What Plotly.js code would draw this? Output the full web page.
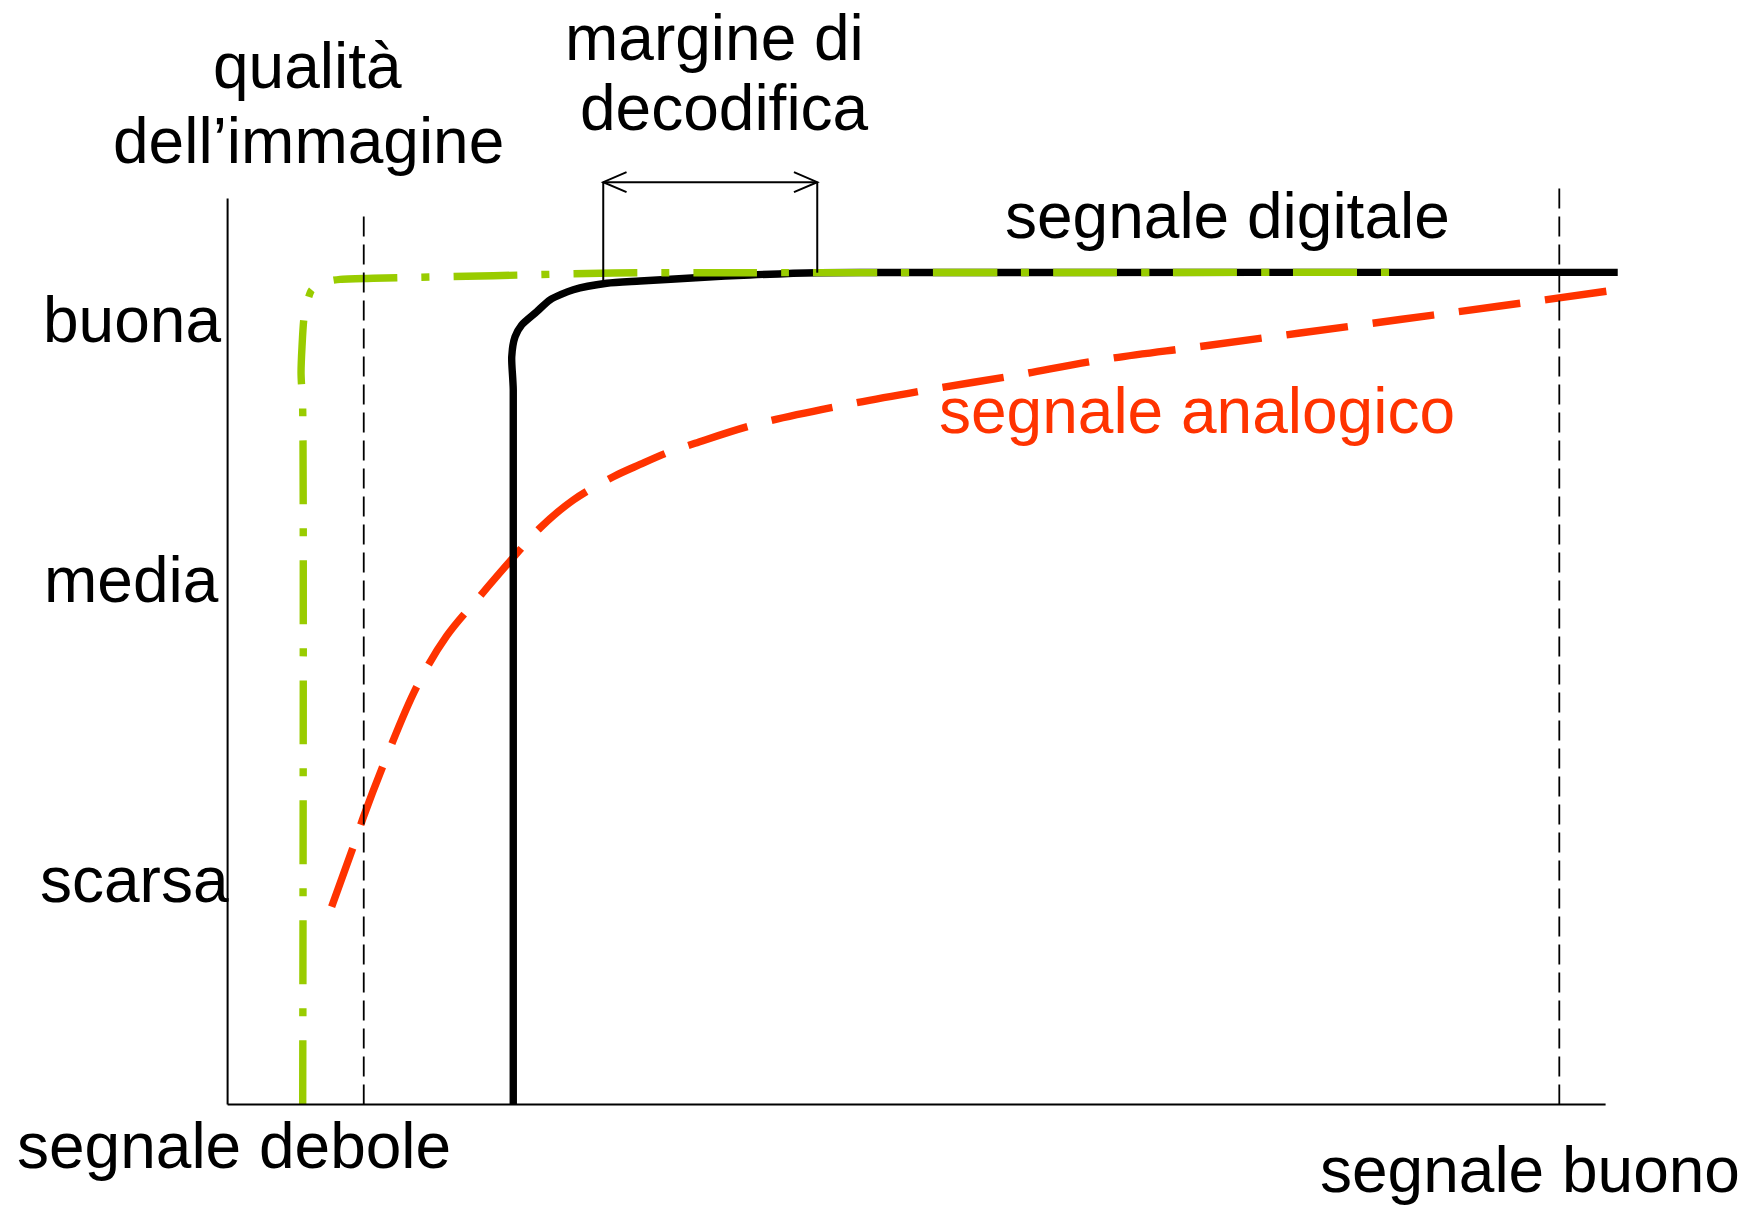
<!DOCTYPE html>
<html>
<head>
<meta charset="utf-8">
<script src="https://cdn.plot.ly/plotly-3.0.1.min.js"></script>
<style>
  html, body { margin: 0; padding: 0; background: #ffffff; }
  #chart { width: 1758px; height: 1206px; }
</style>
</head>
<body>
<div id="chart"></div>
<script>
// ---- data (x = signal strength along the axis, 0..100; y = picture quality, 0..100) ----
const digitalX = [20.73, 20.73, 20.62, 20.86, 21.34, 22.43, 23.40, 25.09, 27.51, 29.93, 34.28, 37.89, 42.77, 48.79, 100.88];
const digitalY = [0, 78.86, 82.54, 84.74, 86.04, 87.50, 88.82, 89.92, 90.64, 90.89, 91.28, 91.56, 91.81, 91.83, 91.85];

const greenX = [5.45, 5.45, 5.33, 5.40, 5.57, 6.10, 7.19, 8.16, 10.57, 19.28, 27.99, 37.91, 85.57];
const greenY = [0, 76.65, 80.70, 83.64, 87.14, 89.90, 90.82, 91.08, 91.19, 91.48, 91.78, 91.81, 91.85];

const analogX = [7.55, 9.12, 9.85, 11.30, 13.72, 15.90, 18.32, 20.64, 22.67, 25.09, 27.99, 29.93, 32.10, 33.92, 38.15, 44.44, 50.73, 57.02, 63.31, 70.56, 77.82, 85.08, 92.34, 101.17];
const analogY = [21.82, 28.45, 31.69, 37.47, 46.09, 51.71, 56.12, 60.21, 63.63, 66.72, 69.29, 70.64, 72.05, 72.98, 75.00, 77.10, 78.86, 80.44, 82.17, 83.66, 85.15, 86.64, 88.13, 90.00];

const qualityLabels = ['buona', 'media', 'scarsa'];
const qualityY = [86.58, 57.91, 24.79];

const signalLabels = ['segnale debole', 'segnale buono'];

const thresholdX = [9.88, 96.64];     // dashed reference lines
const thresholdTop = [98.64, 101.86];

const marginX = [27.26, 42.79];       // "margine di decodifica"
const marginTop = 101.8;

// ---- geometry of the drawing area (pixel anchors of the axes) ----
const W = 1758, H = 1206;
const X0PX = 227.6, X100PX = 1605.6, Y0PX = 1104.4, Y100PX = 198.5;
const SX = (X100PX - X0PX) / 100, SY = (Y0PX - Y100PX) / 100;

const FONT = 'Liberation Sans, Arial, Helvetica, sans-serif';
const FS = 64;
const GREEN = '#99CC00', RED = '#FF3300';
const LW = 7.4;

function interp(xs, ys, x) {
  for (let i = 1; i < xs.length; i++) {
    if (xs[i] >= x && xs[i - 1] <= x && xs[i] !== xs[i - 1]) {
      const t = (x - xs[i - 1]) / (xs[i] - xs[i - 1]);
      return ys[i - 1] + t * (ys[i] - ys[i - 1]);
    }
  }
  return ys[ys.length - 1];
}
const px = v => v / W;            // pixel x -> paper
const py = v => 1 - v / H;        // pixel y -> paper

const traces = [
  { x: analogX, y: analogY, mode: 'lines', line: { color: RED, width: LW, dash: '62px,25px', shape: 'spline', smoothing: 1 }, hoverinfo: 'skip' },
  { x: digitalX, y: digitalY, mode: 'lines', line: { color: '#000000', width: LW, shape: 'spline', smoothing: 0.7 }, hoverinfo: 'skip' },
  { x: greenX, y: greenY, mode: 'lines', line: { color: GREEN, width: LW, dash: '64px,24px,8px,24px', shape: 'spline', smoothing: 0.6 }, hoverinfo: 'skip' }
];

const shapes = [
  { type: 'line', xref: 'x', yref: 'y', x0: 0, y0: 0, x1: 0, y1: 100, line: { color: '#000', width: 2 } },
  { type: 'line', xref: 'x', yref: 'y', x0: 0, y0: 0, x1: 100, y1: 0, line: { color: '#000', width: 2 } }
];
thresholdX.forEach((tx, i) => shapes.push({
  type: 'line', xref: 'x', yref: 'y', x0: tx, x1: tx, y0: 0, y1: thresholdTop[i],
  line: { color: '#000', width: 1.8, dash: '20px,8px' }
}));
// bracket of the decoding margin
shapes.push({ type: 'line', xref: 'x', yref: 'y', x0: marginX[0], x1: marginX[1], y0: marginTop, y1: marginTop, line: { color: '#000', width: 2 } });
marginX.forEach(mx => shapes.push({
  type: 'line', xref: 'x', yref: 'y', x0: mx, x1: mx, y0: marginTop, y1: interp(digitalX, digitalY, mx),
  line: { color: '#000', width: 2 }
}));
const hdx = 23.3 / SX, hdy = 10 / SY;
shapes.push({ type: 'path', xref: 'x', yref: 'y', line: { color: '#000', width: 2 },
  path: `M${marginX[0] + hdx},${marginTop + hdy} L${marginX[0]},${marginTop} L${marginX[0] + hdx},${marginTop - hdy}` });
shapes.push({ type: 'path', xref: 'x', yref: 'y', line: { color: '#000', width: 2 },
  path: `M${marginX[1] - hdx},${marginTop + hdy} L${marginX[1]},${marginTop} L${marginX[1] - hdx},${marginTop - hdy}` });

const BASE = 0.3465 * FS; // baseline offset from text box centre
function label(text, cx, baseline, color) {
  return { text: text, xref: 'paper', yref: 'paper', x: px(cx), y: py(baseline - BASE),
    xanchor: 'center', yanchor: 'middle', showarrow: false,
    font: { family: FONT, size: FS, color: color || '#000' } };
}
const annotations = [
  label('qualità', 307.5, 88.3),
  label('dell’immagine', 308.3, 163.3),
  label('margine di', 714.3, 60),
  label('decodifica', 724.2, 130),
  label('segnale digitale', 1227.8, 238.3),
  label('segnale analogico', 1196.8, 433.3, RED),
  label(signalLabels[0], 233.8, 1168.3),
  label(signalLabels[1], 1530.3, 1191.7)
];
const qualityCx = [132, 131, 134];
qualityLabels.forEach((q, i) => annotations.push({
  text: q, xref: 'paper', yref: 'y', x: px(qualityCx[i]), y: qualityY[i],
  xanchor: 'center', yanchor: 'middle', showarrow: false,
  font: { family: FONT, size: FS, color: '#000' }
}));

const layout = {
  width: W, height: H,
  margin: { l: 0, r: 0, t: 0, b: 0, pad: 0 },
  paper_bgcolor: '#ffffff', plot_bgcolor: '#ffffff',
  showlegend: false,
  xaxis: { range: [-X0PX / SX, (W - X0PX) / SX], visible: false, fixedrange: true },
  yaxis: { range: [-(H - Y0PX) / SY, Y0PX / SY], visible: false, fixedrange: true },
  shapes: shapes,
  annotations: annotations
};

Plotly.newPlot('chart', traces, layout, { staticPlot: true, displayModeBar: false });
</script>
</body>
</html>
